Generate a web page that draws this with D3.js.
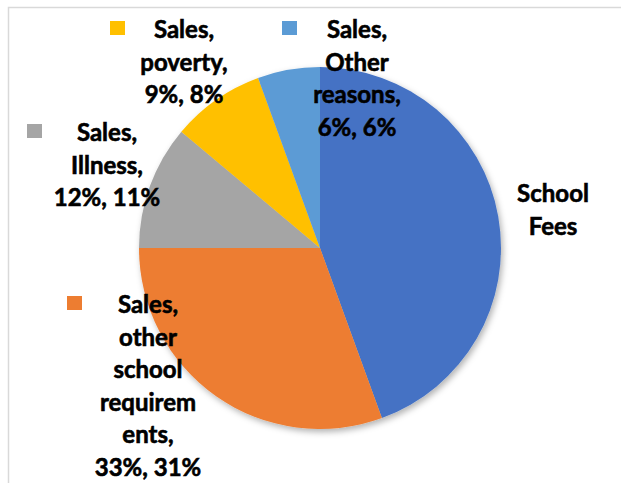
<!DOCTYPE html>
<html>
<head>
<meta charset="utf-8">
<script src="https://cdn.jsdelivr.net/npm/d3@7/dist/d3.min.js"></script>
<style>
  html, body { margin: 0; padding: 0; background: #fff; }
  svg { display: block; }
  text { font-family: "Lato", "Liberation Sans", sans-serif; font-weight: 700; fill: #000; }
</style>
</head>
<body>
<svg id="chart" width="621" height="483"></svg>
<script>
// Series and slices (clockwise from 12 o'clock)
const seriesName = "Sales";
const categories = ["School Fees", "other school requirements", "Illness", "poverty", "Other reasons"];
const values = [48, 33, 12, 9, 6];
const colors = ["#4472C4", "#ED7D31", "#A5A5A5", "#FFC000", "#5B9BD5"];

// How each category name wraps inside its label box
const nameLines = [
  ["School", "Fees"],
  ["other", "school", "requirem", "ents,"],
  ["Illness,"],
  ["poverty,"],
  ["Other", "reasons,"]
];
// Whether a label shows series name, value and percentage
const fullLabel = [false, true, true, true, true];

// Label placement: text centre x, first baseline y, legend-key x
const labelLayout = [
  { x: 553, y: 202, key: null },
  { x: 148, y: 313, key: 67 },
  { x: 107, y: 141, key: 27 },
  { x: 184, y: 38, key: 110 },
  { x: 357, y: 38, key: 282 }
];

const W = 621, H = 483;
const cx = 320, cy = 248, R = 181;
const lineH = 32.5;

const svg = d3.select("#chart");

// drop shadow under the pie
const defs = svg.append("defs");
const f = defs.append("filter").attr("id", "pieShadow")
  .attr("x", "-20%").attr("y", "-20%").attr("width", "140%").attr("height", "140%");
f.append("feDropShadow").attr("dx", 2).attr("dy", 3).attr("stdDeviation", 3)
  .attr("flood-color", "#000").attr("flood-opacity", 0.3);

// chart frame
svg.append("rect")
  .attr("x", 8.5).attr("y", 7.5).attr("width", W + 20).attr("height", H + 20)
  .attr("fill", "none").attr("stroke", "#d9d9d9").attr("stroke-width", 1.5);

const total = d3.sum(values);
const pie = d3.pie().sort(null).startAngle(0).endAngle(2 * Math.PI)
  .value(i => values[i]);
const arcs = pie(d3.range(values.length));
const arc = d3.arc().innerRadius(0).outerRadius(R);

const g = svg.append("g").attr("transform", `translate(${cx},${cy})`)
  .attr("filter", "url(#pieShadow)");
g.selectAll("path").data(arcs).join("path")
  .attr("d", arc)
  .attr("fill", d => colors[d.data]);

const fmt = v => `${Math.round(v)}%`;

// data labels with legend keys
labelLayout.forEach((L, i) => {
  let lines;
  if (fullLabel[i]) {
    lines = [`${seriesName},`].concat(nameLines[i])
      .concat([`${fmt(values[i])}, ${fmt(values[i] / total * 100)}`]);
  } else {
    lines = nameLines[i];
  }
  const t = svg.append("text")
    .attr("text-anchor", "middle")
    .attr("font-size", 24)
    .attr("stroke", "#000")
    .attr("stroke-width", 0.6);
  lines.forEach((s, k) => {
    t.append("tspan").attr("x", L.x).attr("y", L.y + k * lineH).text(s);
  });
  if (L.key !== null) {
    svg.append("rect")
      .attr("x", L.key).attr("y", L.y - 17)
      .attr("width", 15).attr("height", 14)
      .attr("fill", colors[i]);
  }
});
</script>
</body>
</html>
